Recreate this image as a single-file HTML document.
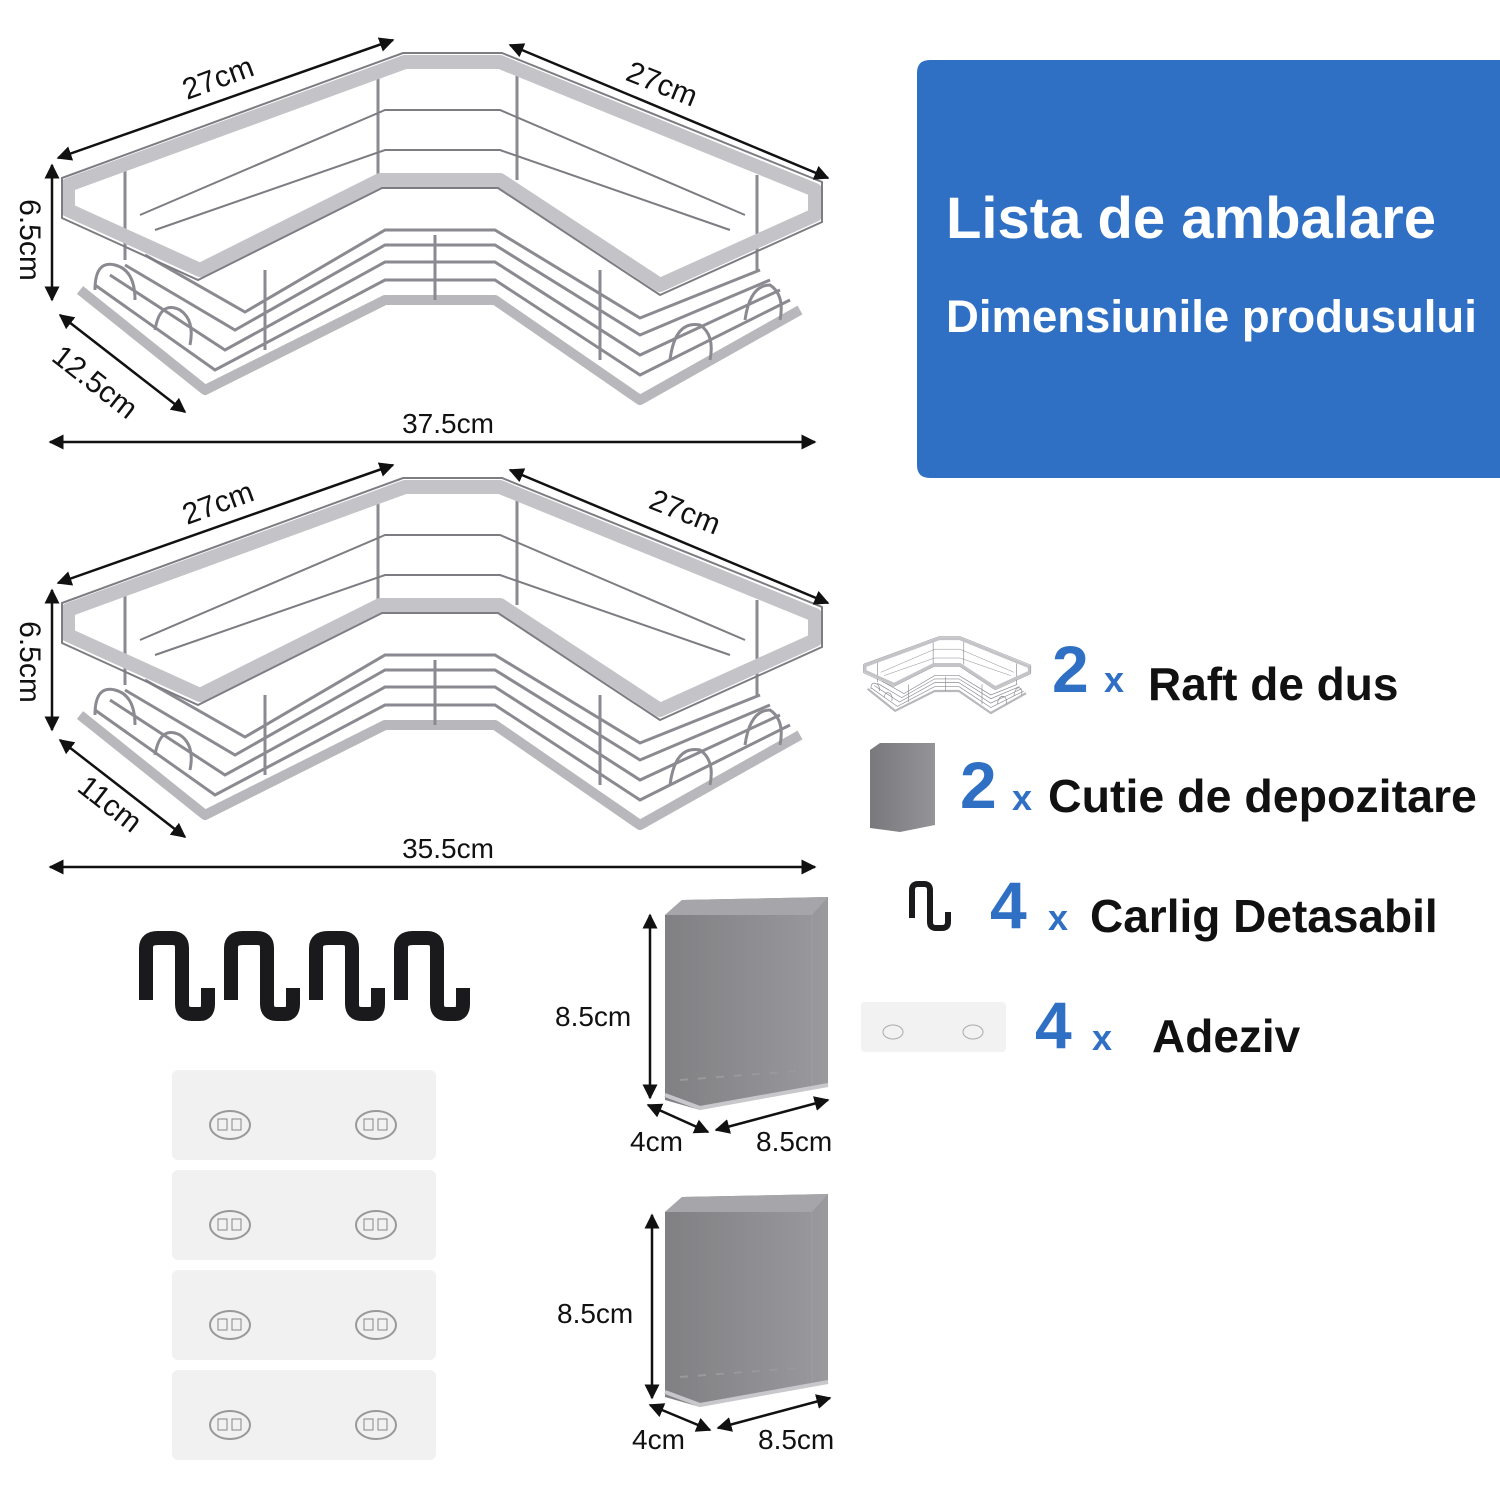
<!DOCTYPE html>
<html><head><meta charset="utf-8"><style>
html,body{margin:0;padding:0;background:#fff}
svg{display:block}
text{font-family:"Liberation Sans",sans-serif}
</style></head><body>
<svg width="1500" height="1500" viewBox="0 0 1500 1500" xmlns="http://www.w3.org/2000/svg">
<defs>
<marker id="ar" viewBox="0 0 10 10" refX="9" refY="5" markerWidth="6" markerHeight="6" orient="auto-start-reverse"><path d="M0,0L10,5L0,10z" fill="#111"/></marker>
<linearGradient id="box" x1="0" x2="1"><stop offset="0" stop-color="#6a6a6e"/><stop offset="1" stop-color="#88888d"/></linearGradient>
<g id="shelf">
 <g fill="none" stroke="#b8b8bc" stroke-width="10" stroke-linejoin="round">
  <path d="M80,290 L205,390 L385,300 L495,300 L640,400 L800,310"/>
 </g>
 <g fill="none" stroke="#8a8a90" stroke-width="3">
  <path d="M95,285 L215,370 L385,280 L495,280 L640,375 L790,300"/>
  <path d="M110,275 L225,350 L385,262 L495,262 L640,355 L780,290"/>
  <path d="M125,265 L235,330 L385,245 L495,245 L640,335 L770,280"/>
  <path d="M145,255 L245,312 L385,230 L495,230 L640,318 L760,270"/>
  <line x1="265" y1="270" x2="265" y2="350"/><line x1="435" y1="235" x2="435" y2="300"/><line x1="600" y1="270" x2="600" y2="360"/>
  <line x1="125" y1="165" x2="125" y2="260"/><line x1="378" y1="70" x2="378" y2="180"/><line x1="517" y1="70" x2="517" y2="180"/><line x1="757" y1="175" x2="757" y2="270"/>
  <path d="M95,290 Q95,260 115,265 Q135,270 135,300" /><path d="M155,330 Q160,300 180,310 Q195,320 190,345"/>
  <path d="M670,360 Q675,320 700,325 Q715,335 710,360"/><path d="M745,320 Q750,285 770,285 Q785,295 780,320"/>
 </g>
 <g fill="none" stroke="#c4c4c8" stroke-width="14" stroke-linejoin="round">
  <path d="M68,185 L405,62 L500,62 L815,190 L815,215 L660,285 L500,180 L380,180 L200,270 L68,210 Z"/>
 </g>
 <g fill="none" stroke="#7c7c82" stroke-width="2">
  <path d="M62,178 L403,53 L502,53 L822,182 L822,222 L660,295 L498,188 L382,188 L198,280 L62,218 Z"/>
  <path d="M140,215 L385,110 L500,110 L745,215"/>
  <path d="M155,230 L385,150 L500,150 L730,230"/>
 </g>
</g>
<path id="hk" d="M146,1000 L146,948 Q146,938 158,938 L172,938 Q182,938 182,948 L182,1004 Q182,1014 192,1014 L200,1014 Q208,1014 208,1004 L208,988" fill="none" stroke="#1a1a1c" stroke-width="14" stroke-linejoin="round"/>
</defs>
<rect width="1500" height="1500" fill="#fff"/>
<path d="M930,60 L1500,60 L1500,478 L930,478 Q917,478 917,465 L917,73 Q917,60 930,60Z" fill="#2f70c4"/>
<text x="946" y="238" font-size="58" font-weight="bold" fill="#fff">Lista de ambalare</text>
<text x="946" y="332" font-size="45.5" font-weight="bold" fill="#fff">Dimensiunile produsului</text>

<use href="#shelf"/>
<g stroke="#111" stroke-width="2.5" fill="none">
 <line x1="58" y1="158" x2="393" y2="40" marker-start="url(#ar)" marker-end="url(#ar)"/>
 <line x1="510" y1="45" x2="828" y2="178" marker-start="url(#ar)" marker-end="url(#ar)"/>
 <line x1="52" y1="165" x2="52" y2="300" marker-start="url(#ar)" marker-end="url(#ar)"/>
 <line x1="60" y1="315" x2="185" y2="412" marker-start="url(#ar)" marker-end="url(#ar)"/>
 <line x1="50" y1="442" x2="815" y2="442" marker-start="url(#ar)" marker-end="url(#ar)"/>
</g>
<g font-size="30" fill="#111" text-anchor="middle">
 <text x="218" y="88" transform="rotate(-20 218 78)">27cm</text>
 <text x="662" y="94" transform="rotate(22 662 84)">27cm</text>
 <text x="30" y="250" transform="rotate(90 30 240)">6.5cm</text>
 <text x="95" y="392" transform="rotate(38 95 382)">12.5cm</text>
 <text x="448" y="433" font-size="28">37.5cm</text>
</g>

<use href="#shelf" y="425"/>
<g stroke="#111" stroke-width="2.5" fill="none">
 <line x1="58" y1="583" x2="393" y2="465" marker-start="url(#ar)" marker-end="url(#ar)"/>
 <line x1="510" y1="470" x2="828" y2="603" marker-start="url(#ar)" marker-end="url(#ar)"/>
 <line x1="52" y1="590" x2="52" y2="730" marker-start="url(#ar)" marker-end="url(#ar)"/>
 <line x1="60" y1="740" x2="185" y2="837" marker-start="url(#ar)" marker-end="url(#ar)"/>
 <line x1="50" y1="867" x2="815" y2="867" marker-start="url(#ar)" marker-end="url(#ar)"/>
</g>
<g font-size="30" fill="#111" text-anchor="middle">
 <text x="218" y="513" transform="rotate(-20 218 503)">27cm</text>
 <text x="685" y="522" transform="rotate(22 685 512)">27cm</text>
 <text x="30" y="672" transform="rotate(90 30 662)">6.5cm</text>
 <text x="110" y="814" transform="rotate(38 110 804)">11cm</text>
 <text x="448" y="858" font-size="28">35.5cm</text>
</g>

<use href="#hk"/><use href="#hk" x="85"/><use href="#hk" x="170"/><use href="#hk" x="255"/>

<g>
 <g id="pad"><rect x="172" y="1070" width="264" height="90" rx="6" fill="#f1f1f1"/>
  <ellipse cx="230" cy="1125" rx="20" ry="14" fill="none" stroke="#999" stroke-width="2"/>
  <ellipse cx="376" cy="1125" rx="20" ry="14" fill="none" stroke="#999" stroke-width="2"/>
  <rect x="218" y="1119" width="9" height="11" fill="none" stroke="#888"/><rect x="232" y="1119" width="9" height="11" fill="none" stroke="#888"/>
  <rect x="364" y="1119" width="9" height="11" fill="none" stroke="#888"/><rect x="378" y="1119" width="9" height="11" fill="none" stroke="#888"/></g>
 <use href="#pad" y="100"/><use href="#pad" y="200"/><use href="#pad" y="300"/>
</g>

<g id="bx">
 <path d="M665,915 L682,900 L828,897 L828,1085 L700,1110 L665,1100 Z" fill="url(#box)" opacity="0.85"/>
 <path d="M665,915 L682,900 L828,897 L812,915 Z" fill="#a5a5aa"/>
 <line x1="812" y1="915" x2="812" y2="1085" stroke="#9a9a9f" stroke-width="2"/>
 <path d="M665,1095 L700,1108 L828,1085" fill="none" stroke="#c8c8cc" stroke-width="4"/>
 <path d="M680,1080 L810,1070" fill="none" stroke="#999" stroke-width="2" stroke-dasharray="8 10"/>
</g>
<use href="#bx" y="297"/>
<g stroke="#111" stroke-width="2.5" fill="none">
 <line x1="650" y1="915" x2="650" y2="1098" marker-start="url(#ar)" marker-end="url(#ar)"/>
 <line x1="648" y1="1105" x2="708" y2="1132" marker-start="url(#ar)" marker-end="url(#ar)"/>
 <line x1="716" y1="1130" x2="828" y2="1100" marker-start="url(#ar)" marker-end="url(#ar)"/>
 <line x1="652" y1="1215" x2="652" y2="1398" marker-start="url(#ar)" marker-end="url(#ar)"/>
 <line x1="650" y1="1405" x2="710" y2="1430" marker-start="url(#ar)" marker-end="url(#ar)"/>
 <line x1="718" y1="1428" x2="830" y2="1398" marker-start="url(#ar)" marker-end="url(#ar)"/>
</g>
<g font-size="28" fill="#111">
 <text x="555" y="1026">8.5cm</text><text x="630" y="1151">4cm</text><text x="756" y="1151">8.5cm</text>
 <text x="557" y="1323">8.5cm</text><text x="632" y="1449">4cm</text><text x="758" y="1449">8.5cm</text>
</g>

<g transform="translate(850,625) scale(0.22)"><use href="#shelf"/></g>
<path d="M870,750 L880,743 L935,743 L935,825 L900,832 L870,828Z" fill="url(#box)" opacity="0.9"/>
<path d="M912,918 L912,890 Q912,884 918,884 L924,884 Q930,884 930,890 L930,922 Q930,928 936,928 L942,928 Q948,928 948,922 L948,912" fill="none" stroke="#1a1a1c" stroke-width="6"/>
<rect x="861" y="1002" width="145" height="50" rx="4" fill="#f2f2f2"/>
<ellipse cx="893" cy="1032" rx="10" ry="7" fill="none" stroke="#aaa"/><ellipse cx="973" cy="1032" rx="10" ry="7" fill="none" stroke="#aaa"/>

<g font-weight="bold">
 <text x="1052" y="692" font-size="66" fill="#2f70c4">2</text><text x="1104" y="692" font-size="36" fill="#2f70c4">x</text>
 <text x="1148" y="700" font-size="46" fill="#111">Raft de dus</text>
 <text x="960" y="808" font-size="66" fill="#2f70c4">2</text><text x="1012" y="810" font-size="36" fill="#2f70c4">x</text>
 <text x="1048" y="812" font-size="46.5" fill="#111">Cutie de depozitare</text>
 <text x="990" y="928" font-size="66" fill="#2f70c4">4</text><text x="1048" y="930" font-size="36" fill="#2f70c4">x</text>
 <text x="1090" y="932" font-size="46" fill="#111">Carlig Detasabil</text>
 <text x="1035" y="1048" font-size="66" fill="#2f70c4">4</text><text x="1092" y="1050" font-size="36" fill="#2f70c4">x</text>
 <text x="1152" y="1052" font-size="46" fill="#111">Adeziv</text>
</g>
</svg>
</body></html>
